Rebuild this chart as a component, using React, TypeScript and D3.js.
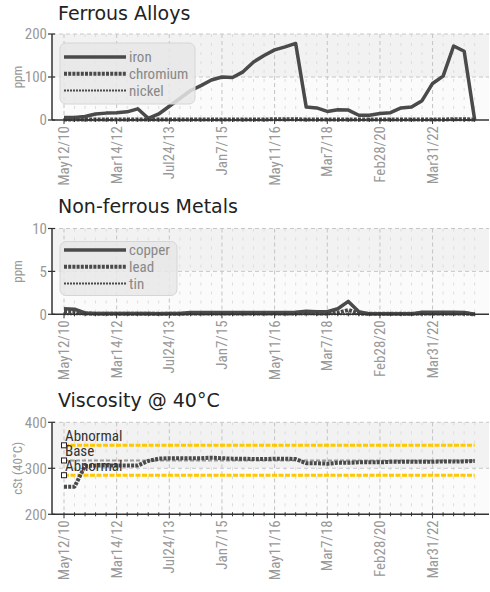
import { useEffect } from 'react';
import * as d3 from 'd3';

// sample dates shown on the x axis (every 5th sample)
const tickLabels = ['May12/10', 'Mar14/12', 'Jul24/13', 'Jan7/15', 'May11/16', 'Mar7/18', 'Feb28/20', 'Mar31/22'];
const tickEvery = 5;

// Ferrous Alloys (ppm)
const iron = [6, 6, 8, 14, 16, 17, 19, 26, 4, 14, 32, 50, 68, 80, 93, 100, 99, 112, 135, 150, 163, 170, 178, 30, 28, 20, 24, 23, 11, 11, 15, 17, 28, 30, 45, 85, 102, 172, 160, 0];
const chromium = [1, 1, 1, 1, 1, 1, 1, 1, 1, 1, 1, 1, 1, 1, 1, 1, 1, 1, 1, 1, 2, 2, 2, 1, 1, 1, 1, 1, 1, 1, 1, 1, 1, 1, 1, 1, 1, 2, 2, 1];
const nickel = [0, 0, 0, 0, 0, 0, 0, 0, 0, 0, 0, 0, 0, 0, 0, 0, 0, 0, 0, 0, 0, 0, 0, 0, 0, 0, 0, 0, 0, 0, 0, 0, 0, 0, 0, 0, 0, 0, 0, 0];

// Non-ferrous Metals (ppm)
const copper = [0.65, 0.6, 0.15, 0.1, 0.1, 0.1, 0.1, 0.1, 0.1, 0.05, 0.1, 0.1, 0.2, 0.2, 0.2, 0.2, 0.2, 0.2, 0.2, 0.2, 0.2, 0.2, 0.25, 0.35, 0.3, 0.3, 0.65, 1.5, 0.3, 0.05, 0.05, 0.05, 0.05, 0.05, 0.25, 0.25, 0.25, 0.25, 0.2, 0];
const lead = [0.3, 0.3, 0.1, 0.05, 0.05, 0.05, 0.05, 0.05, 0.05, 0.05, 0.05, 0.05, 0.1, 0.1, 0.1, 0.1, 0.1, 0.1, 0.1, 0.1, 0.1, 0.1, 0.1, 0.15, 0.1, 0.1, 0.2, 0.5, 0.1, 0.05, 0.05, 0.05, 0.05, 0.05, 0.1, 0.1, 0.1, 0.1, 0.1, 0];
const tin = [0, 0, 0, 0, 0, 0, 0, 0, 0, 0, 0, 0, 0, 0, 0, 0, 0, 0, 0, 0, 0, 0, 0, 0, 0, 0, 0, 0, 0, 0, 0, 0, 0, 0, 0, 0, 0, 0, 0, 0];

// Viscosity @ 40°C (cSt)
const viscosity = [260, 260, 305, 306, 306, 306, 306, 306, 316, 321, 322, 322, 322, 322, 323, 322, 321, 321, 320, 320, 321, 321, 320, 311, 311, 310, 312, 312, 313, 313, 313, 314, 314, 314, 314, 314, 315, 315, 315, 316];
const limitNames = ['Abnormal', 'Base', 'Abnormal'];
const limitValues = [350, 317, 285];

const NARROW = '"Liberation Sans Narrow", "Arial Narrow", "Roboto Condensed", sans-serif';
const TITLE_FONT = '"DejaVu Sans", Verdana, sans-serif';
const INK = '#4a4a4a';

type Style = { width: number; dash?: string };
const solid: Style = { width: 3.5 };
const heavyDot: Style = { width: 4, dash: '3,1.2' };
const lightDot: Style = { width: 2, dash: '2,1' };

type Series = { name: string; values: number[]; style: Style };

const n = iron.length;
const x = d3.scaleLinear().domain([0, n - 1]).range([64, 474.7]);
const AXIS_LEFT = 52;
const AXIS_RIGHT = 489;

type PanelProps = {
    title: string;
    titleY: number;
    top: number;
    bottom: number;
    domain: [number, number];
    ticks: number[];
    yLabel: string;
    series: Series[];
    legend?: { x: number; y: number; w: number; h: number; row0: number };
    limits?: boolean;
};

function Panel({ title, titleY, top, bottom, domain, ticks, yLabel, series, legend, limits }: PanelProps) {
    const y = d3.scaleLinear().domain(domain).range([bottom, top]);
    const line = d3.line<number>().x((_, i) => x(i)).y(d => y(d));
    const mid = ticks[1];

    return (
        <g>
            <text x={58} y={titleY} fontFamily={TITLE_FONT} fontSize={19} fill="#222">{title}</text>

            {/* background bands */}
            <rect x={AXIS_LEFT} y={y(domain[1])} width={AXIS_RIGHT - AXIS_LEFT} height={y(mid) - y(domain[1])} fill="#f2f2f2" />
            <rect x={AXIS_LEFT} y={y(mid)} width={AXIS_RIGHT - AXIS_LEFT} height={y(domain[0]) - y(mid)} fill="#fbfbfb" />

            {/* grid */}
            {d3.range(n).map(i => (
                <line key={'v' + i} x1={x(i)} x2={x(i)} y1={top} y2={bottom}
                    stroke={i % tickEvery === 0 ? '#c4c4c4' : '#dddddd'}
                    strokeDasharray={i % tickEvery === 0 ? '4,3' : '3,6'} strokeWidth={1} />
            ))}
            {ticks.slice(1).map(t => (
                <line key={'h' + t} x1={AXIS_LEFT} x2={AXIS_RIGHT} y1={y(t)} y2={y(t)}
                    stroke="#c8c8c8" strokeDasharray="4,3" />
            ))}

            {limits && limitValues.map((v, k) => (
                <line key={'l' + k} x1={x(0)} x2={x(n - 1)} y1={y(v)} y2={y(v)}
                    stroke={limitNames[k] === 'Base' ? '#9a9a9a' : '#ffc800'}
                    strokeWidth={limitNames[k] === 'Base' ? 2 : 3}
                    strokeDasharray={limitNames[k] === 'Base' ? '4,2' : '5,1.5'} />
            ))}

            {/* data */}
            {series.slice().reverse().map(s => (
                <path key={s.name} d={line(s.values) ?? ''} fill="none" stroke={INK}
                    strokeWidth={s.style.width} strokeDasharray={s.style.dash}
                    strokeLinejoin="round" />
            ))}

            {/* axes */}
            <line x1={AXIS_LEFT} x2={AXIS_LEFT} y1={top} y2={bottom} stroke="#333" strokeWidth={1.5} />
            <line x1={AXIS_LEFT} x2={AXIS_RIGHT} y1={bottom} y2={bottom} stroke="#333" strokeWidth={1.5} />
            {ticks.map(t => (
                <g key={'yt' + t}>
                    <line x1={AXIS_LEFT - 4} x2={AXIS_LEFT + 3} y1={y(t)} y2={y(t)} stroke="#333" strokeWidth={1.2} />
                    <text x={AXIS_LEFT - 5} y={y(t)} dy="0.36em" textAnchor="end"
                        fontFamily={NARROW} fontSize={15} fill="#999">{t}</text>
                </g>
            ))}
            {d3.range(n).map(i => (
                <line key={'xt' + i} x1={x(i)} x2={x(i)} y1={bottom - 2}
                    y2={bottom + (i % tickEvery === 0 ? 4 : 2)} stroke="#333" strokeWidth={1} />
            ))}
            {tickLabels.map((lab, k) => (
                <text key={lab} transform={`translate(${x(k * tickEvery) + 5},${bottom + 6}) rotate(-90)`}
                    textAnchor="end" fontFamily={NARROW} fontSize={15} fill="#999">{lab}</text>
            ))}
            <text transform={`translate(22,${(top + bottom) / 2}) rotate(-90)`} textAnchor="middle"
                fontFamily={NARROW} fontSize={13} fill="#999">{yLabel}</text>

            {/* legend */}
            {legend && (
                <g>
                    <rect x={legend.x} y={legend.y} width={legend.w} height={legend.h} rx={6}
                        fill="rgba(232,232,232,0.85)" stroke="#d6d6d6" />
                    {series.map((s, k) => (
                        <g key={'lg' + s.name}>
                            <line x1={64} x2={126} y1={legend.row0 + k * 16.8} y2={legend.row0 + k * 16.8}
                                stroke={INK} strokeWidth={s.style.width} strokeDasharray={s.style.dash} />
                            <text x={129} y={legend.row0 + k * 16.8} dy="0.35em" fontFamily={NARROW}
                                fontSize={15} fill="#888">{s.name}</text>
                        </g>
                    ))}
                </g>
            )}

            {limits && limitValues.map((v, k) => (
                <g key={'m' + k}>
                    <rect x={x(0) - 2.5} y={y(v) - 2.5} width={5} height={5} fill="#fff" stroke="#222" strokeWidth={1} />
                    <text x={x(0) + 1} y={y(v) - 4} fontFamily={NARROW} fontSize={15} fill="#333">{limitNames[k]}</text>
                </g>
            ))}
        </g>
    );
}

export default function App() {
    useEffect(() => {
        document.body.style.margin = '0';
    }, []);

    return (
        <svg width={490} height={592} style={{ display: 'block', background: '#fff' }}>
            <Panel title="Ferrous Alloys" titleY={20} top={34} bottom={120} domain={[0, 200]} ticks={[0, 100, 200]}
                yLabel="ppm"
                series={[
                    { name: 'iron', values: iron, style: solid },
                    { name: 'chromium', values: chromium, style: heavyDot },
                    { name: 'nickel', values: nickel, style: lightDot },
                ]}
                legend={{ x: 60, y: 43, w: 135, h: 61, row0: 57 }} />
            <Panel title="Non-ferrous Metals" titleY={213} top={228.5} bottom={314.3} domain={[0, 10]} ticks={[0, 5, 10]}
                yLabel="ppm"
                series={[
                    { name: 'copper', values: copper, style: solid },
                    { name: 'lead', values: lead, style: heavyDot },
                    { name: 'tin', values: tin, style: lightDot },
                ]}
                legend={{ x: 60, y: 241.5, w: 117, h: 54, row0: 250 }} />
            <Panel title="Viscosity @ 40°C" titleY={407} top={422.3} bottom={514.3} domain={[200, 400]} ticks={[200, 300, 400]}
                yLabel="cSt (40°C)"
                series={[{ name: 'viscosity', values: viscosity, style: heavyDot }]}
                limits />
        </svg>
    );
}
